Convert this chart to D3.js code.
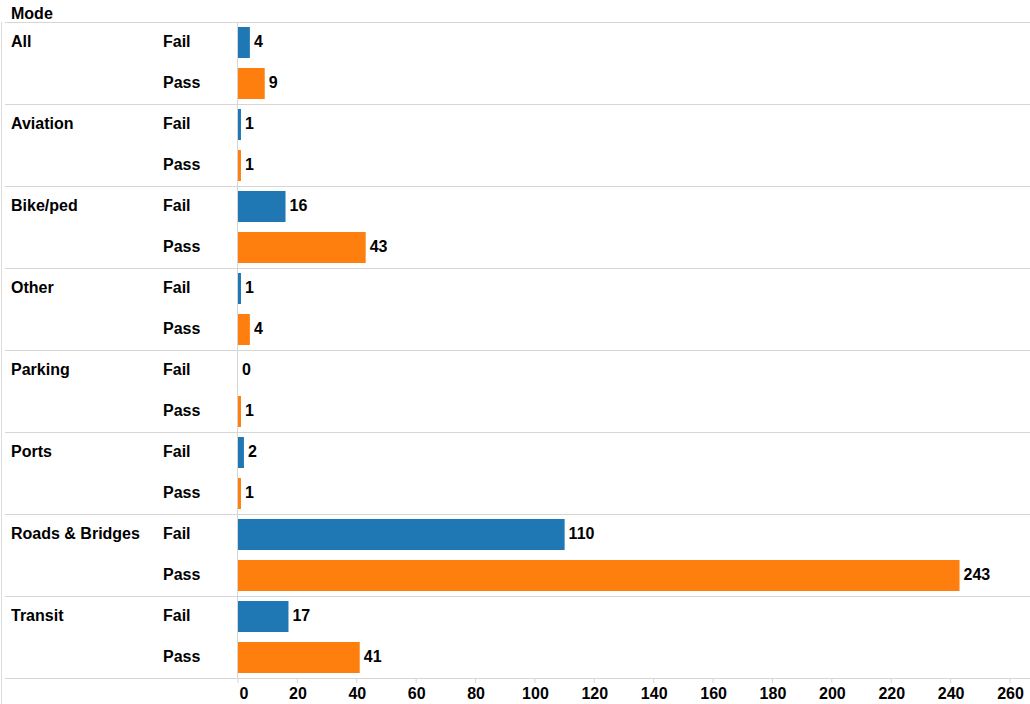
<!DOCTYPE html>
<html>
<head>
<meta charset="utf-8">
<script src="https://cdn.jsdelivr.net/npm/d3@7"></script>
<style>
body{margin:0;background:#fff;}
text{font-family:"Liberation Sans",Arial,sans-serif;font-weight:bold;fill:#000;}
</style>
</head>
<body>
<div id="chart"></div>
<script>
// data
var modes=["All","Aviation","Bike/ped","Other","Parking","Ports","Roads & Bridges","Transit"];
var results=["Fail","Pass"];
var failCounts=[4,1,16,1,0,2,110,17];
var passCounts=[9,1,43,4,1,1,243,41];
var tickValues=[0,20,40,60,80,100,120,140,160,180,200,220,240,260];

var width=1030,height=704;
var fontSize="16px";
var colorRes=d3.scaleOrdinal().domain(results).range(["#1f77b4","#ff7f0e"]);

var rows=[];
modes.forEach(function(m,i){
	rows.push({mode:m,result:"Fail",value:failCounts[i]});
	rows.push({mode:m,result:"Pass",value:passCounts[i]});
});

var svg=d3.select("#chart").append("svg")
	.attr("width",width)
	.attr("height",height);

var x=d3.scaleLinear().domain([0,260]).range([238,1010]);
var yMode=d3.scaleBand().domain(modes).range([22,678]);
var yRes=d3.scaleBand().domain(results).range([0,yMode.bandwidth()])
	.paddingInner(0.244).paddingOuter(0.122);

// header
svg.append("text")
	.attr("x",11).attr("y",14)
	.attr("dy","0.3em")
	.style("font-size",fontSize)
	.text("Mode");

// left border
svg.append("line")
	.attr("x1",1.5).attr("x2",1.5)
	.attr("y1",22).attr("y2",height)
	.style("stroke","#dcdcdc");

// separators
var seps=[22].concat(modes.map(function(m){return yMode(m)+yMode.bandwidth();}));
svg.selectAll(".sep").data(seps).enter().append("line")
	.attr("class","sep")
	.attr("x1",5).attr("x2",width)
	.attr("y1",function(d){return d+0.5;})
	.attr("y2",function(d){return d+0.5;})
	.style("stroke","#d6d6d6");

// zero line
svg.append("line")
	.attr("x1",x(0)-0.5).attr("x2",x(0)-0.5)
	.attr("y1",22).attr("y2",678)
	.style("stroke","#d6d6d6");

// mode labels
svg.selectAll(".modeLabel").data(modes).enter().append("text")
	.attr("class","modeLabel")
	.attr("x",11)
	.attr("y",function(d){return yMode(d)+yRes.step()/2;})
	.attr("dy","0.28em")
	.style("font-size",fontSize)
	.text(function(d){return d;});

var group=svg.selectAll(".row").data(rows).enter().append("g")
	.attr("class","row")
	.attr("transform",function(d){return "translate(0,"+(yMode(d.mode))+")";});

group.append("text")
	.attr("x",163)
	.attr("y",function(d){return yRes(d.result)+yRes.bandwidth()/2;})
	.attr("dy","0.28em")
	.style("font-size",fontSize)
	.text(function(d){return d.result;});

group.append("rect")
	.attr("x",x(0))
	.attr("y",function(d){return yRes(d.result);})
	.attr("width",function(d){return x(d.value)-x(0);})
	.attr("height",yRes.bandwidth())
	.style("fill",function(d){return colorRes(d.result);});

group.append("text")
	.attr("x",function(d){return x(d.value)+4;})
	.attr("y",function(d){return yRes(d.result)+yRes.bandwidth()/2;})
	.attr("dy","0.28em")
	.style("font-size",fontSize)
	.text(function(d){return d.value;});

// axis
var axis=svg.append("g")
	.attr("transform","translate(0,678)")
	.call(d3.axisBottom(x).tickValues(tickValues).tickSize(5).tickSizeOuter(0).tickPadding(5));
axis.select(".domain").remove();
axis.selectAll(".tick line").style("stroke","#d6d6d6").attr("transform","translate(-0.5,0)");
axis.selectAll(".tick text")
	.style("font-size",fontSize)
	.style("font-family","'Liberation Sans',Arial,sans-serif")
	.style("font-weight","bold")
	.style("fill","#000");
// first label sits to the right of its tick
axis.selectAll(".tick text").filter(function(d){return d==0;})
	.attr("text-anchor","start")
	.attr("x",1);
</script>
</body>
</html>
